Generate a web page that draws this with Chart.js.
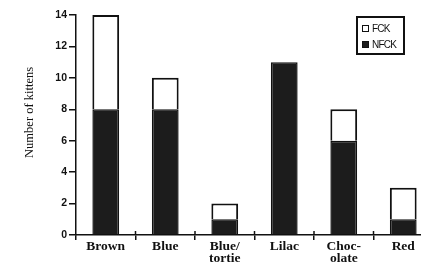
<!DOCTYPE html>
<html>
<head>
<meta charset="utf-8">
<script src="https://cdn.jsdelivr.net/npm/chart.js@4/dist/chart.umd.min.js"></script>
<style>
  html, body { margin:0; padding:0; background:#fff; overflow:hidden; width:421px; height:265px; }
  #wrap { position:relative; width:421px; height:265px; overflow:hidden; }
  canvas { position:absolute; left:0; top:0; }
  #legend { position:absolute; left:356px; top:16px; width:45px; height:35px; border:2px solid #111;
            font-family:"Liberation Sans", Arial, sans-serif; font-size:10px; color:#111; letter-spacing:-0.8px; }
  #legend div { position:absolute; left:4px; white-space:nowrap; line-height:11px; }
  #legend span.sw { display:inline-block; width:5px; height:5px; border:1px solid #111; margin-right:3px; vertical-align:0px; }
</style>
</head>
<body>
<div id="wrap">
  <canvas id="c" width="440" height="265"></canvas>
  <div id="legend">
    <div style="top:5px"><span class="sw" style="background:#fff"></span>FCK</div>
    <div style="top:21px"><span class="sw" style="background:#1c1c1c"></span>NFCK</div>
  </div>
</div>
<script>
const categories = [["Brown"], ["Blue"], ["Blue/", "tortie"], ["Lilac"], ["Choc-", "olate"], ["Red"]];
const nfckValues = [8, 8, 1, 11, 6, 1];
const fckValues = [6, 2, 1, 0, 2, 2];
const yTicks = [0, 2, 4, 6, 8, 10, 12, 14];
const seriesNames = ["NFCK", "FCK"];
const yTitle = "Number of kittens";

const ink = '#111';

// y-axis title drawn beside the axis, slightly above the axis centre as in the original
const yTitlePlugin = {
  id: 'yTitle',
  afterDraw(chart) {
    const ctx = chart.ctx;
    const y = chart.scales.y;
    ctx.save();
    ctx.fillStyle = ink;
    ctx.font = '12.5px "Liberation Serif", "Times New Roman", serif';
    ctx.textAlign = 'center';
    ctx.textBaseline = 'middle';
    ctx.translate(30, y.getPixelForValue(7.8));
    ctx.rotate(-Math.PI / 2);
    ctx.fillText(yTitle, 0, 0);
    ctx.restore();
  }
};

// x tick marks cross the axis line (extend a little above it too)
const crossTicks = {
  id: 'crossTicks',
  afterDraw(chart) {
    const ctx = chart.ctx;
    const x = chart.scales.x;
    const n = categories.length;
    const w = (x.right - x.left) / n;
    ctx.save();
    ctx.strokeStyle = ink;
    ctx.lineWidth = 1.5;
    for (let i = 1; i <= n; i++) {
      const px = x.left + i * w;
      ctx.beginPath();
      ctx.moveTo(px, x.top - 4);
      ctx.lineTo(px, x.top);
      ctx.stroke();
    }
    ctx.restore();
  }
};

new Chart(document.getElementById('c'), {
  type: 'bar',
  data: {
    labels: categories,
    datasets: [
      { label: seriesNames[0], data: nfckValues, backgroundColor: '#1c1c1c', borderColor: ink, borderWidth: 1.5,
        barPercentage: 0.45, categoryPercentage: 1 },
      { label: seriesNames[1], data: fckValues, backgroundColor: '#ffffff', borderColor: ink, borderWidth: 2,
        barPercentage: 0.45, categoryPercentage: 1 }
    ]
  },
  options: {
    responsive: false,
    animation: false,
    layout: { padding: { top: 15, right: 7, left: 0, bottom: 0 } },
    plugins: { legend: { display: false }, tooltip: { enabled: false } },
    scales: {
      x: {
        stacked: true,
        offset: true,
        grid: { offset: true, drawOnChartArea: false, drawTicks: true, tickLength: 5, color: ink, lineWidth: 1.5 },
        border: { display: true, color: ink, width: 1.5 },
        ticks: { color: ink, padding: 1, maxRotation: 0, autoSkip: false,
                 font: { family: '"Liberation Serif", "Times New Roman", serif', size: 13.5, weight: 'bold', lineHeight: 0.85 } },
        afterFit: (s) => { s.height = 30; }
      },
      y: {
        stacked: true,
        min: 0, max: 14,
        afterBuildTicks: (s) => { s.ticks = yTicks.map(v => ({ value: v })); },
        grid: { drawOnChartArea: false, drawTicks: true, tickLength: 7, color: ink, lineWidth: 1.5 },
        border: { display: true, color: ink, width: 1.5 },
        ticks: { color: ink, padding: 2,
                 font: { family: '"Liberation Sans", Arial, sans-serif', size: 10.5, weight: 'bold' } },
        title: { display: false },
        afterFit: (s) => { s.width = 76; }
      }
    }
  },
  plugins: [yTitlePlugin, crossTicks]
});
</script>
</body>
</html>
